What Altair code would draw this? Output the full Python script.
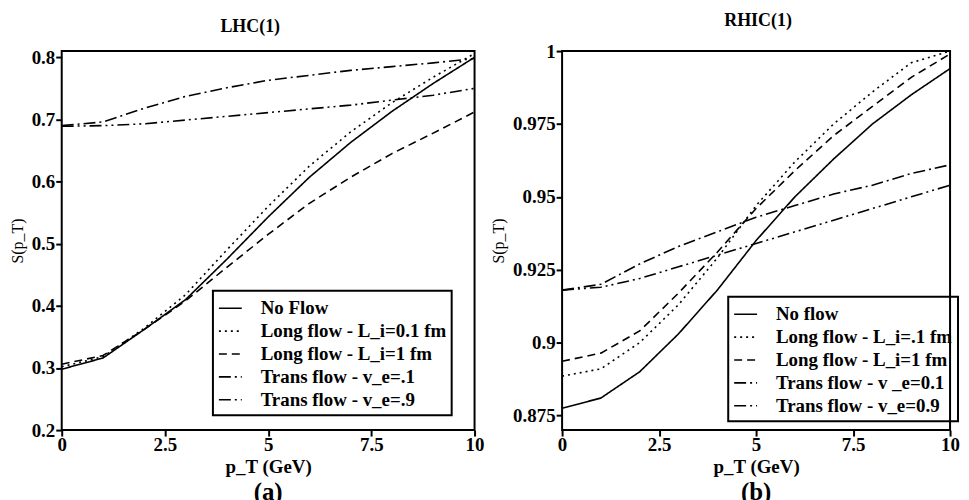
import altair as alt
import pandas as pd

FONT = "Liberation Serif"

# ---------------- data ----------------
pT = [0, 1, 2, 3, 4, 5, 6, 7, 8, 9, 10]

lhc_labels = ["No Flow", "Long flow - L_i=0.1 fm", "Long flow - L_i=1 fm",
              "Trans  flow  - v_e=.1", "Trans flow  - v_e=.9"]
lhc_no_flow = [0.298, 0.316, 0.362, 0.410, 0.475, 0.543, 0.607, 0.663, 0.713, 0.758, 0.800]
lhc_long_01 = [0.302, 0.318, 0.364, 0.418, 0.490, 0.560, 0.625, 0.680, 0.727, 0.768, 0.806]
lhc_long_1 = [0.306, 0.320, 0.362, 0.408, 0.462, 0.515, 0.565, 0.607, 0.645, 0.678, 0.712]
lhc_trans_01 = [0.690, 0.696, 0.718, 0.737, 0.751, 0.763, 0.771, 0.779, 0.785, 0.791, 0.798]
lhc_trans_09 = [0.689, 0.690, 0.693, 0.699, 0.705, 0.711, 0.717, 0.723, 0.731, 0.739, 0.750]

rhic_labels = ["No flow", "Long flow - L_i=.1 fm", "Long flow  - L_i=1 fm",
               "Trans flow  - v _e=0.1", "Trans flow  - v_e=0.9"]
rhic_no_flow = [0.8775, 0.881, 0.890, 0.903, 0.918, 0.935, 0.950, 0.963, 0.975, 0.985, 0.994]
rhic_long_01 = [0.8885, 0.891, 0.900, 0.913, 0.929, 0.947, 0.962, 0.975, 0.986, 0.996, 1.000]
rhic_long_1 = [0.8936, 0.8964, 0.904, 0.917, 0.931, 0.946, 0.959, 0.971, 0.981, 0.991, 0.999]
rhic_trans_01 = [0.918, 0.920, 0.927, 0.933, 0.938, 0.943, 0.947, 0.951, 0.954, 0.958, 0.961]
rhic_trans_09 = [0.918, 0.919, 0.922, 0.926, 0.930, 0.934, 0.938, 0.942, 0.946, 0.950, 0.954]

x_major = [0, 2.5, 5, 7.5, 10]
lhc_y_major = [0.2, 0.3, 0.4, 0.5, 0.6, 0.7, 0.8]
rhic_y_major = [0.875, 0.9, 0.925, 0.95, 0.975, 1.0]

# line styles (solid, dotted, dashed, dash-dot, dash-dot-dot)
DASHES = [[1, 0], [2, 4], [8, 5], [12, 4, 2, 4], [12, 4, 2, 4, 2, 4]]


def panel(labels, series, ydom, ymaj, title, tag, w, h, lx, ly, tpad, tdx):
    rows = []
    for lab, vals in zip(labels, series):
        for xv, yv in zip(pT, vals):
            rows.append({"pT": xv, "S": yv, "series": lab})
    df = pd.DataFrame(rows)
    xs = alt.Scale(domain=[0, 10], nice=False, zero=False)
    ys = alt.Scale(domain=ydom, nice=False, zero=False)

    x_axis = alt.Axis(values=x_major, labelExpr="toString(datum.value)", title="p_T (GeV)",
                      domain=False, ticks=True, tickSize=6, tickWidth=2, tickColor="black",
                      grid=False, labelFlush=False,
                      labelFont=FONT, labelFontSize=19, labelFontWeight="bold",
                      labelColor="black", labelPadding=0,
                      titleFont=FONT, titleFontSize=19, titleFontWeight="bold",
                      titleColor="black", titlePadding=3)
    y_axis = alt.Axis(values=ymaj, labelExpr="toString(datum.value)", title="S(p_T)",
                      domain=False, ticks=True, tickSize=6, tickWidth=2, tickColor="black",
                      grid=False,
                      labelFont=FONT, labelFontSize=19, labelFontWeight="bold",
                      labelColor="black", labelPadding=1,
                      titleFont=FONT, titleFontSize=16, titleFontWeight="normal",
                      titleColor="black", titlePadding=tpad)

    lines = alt.Chart(df).mark_line(clip=True, color="black", strokeWidth=1.6).encode(
        x=alt.X("pT:Q", scale=xs, axis=x_axis),
        y=alt.Y("S:Q", scale=ys, axis=y_axis),
        strokeDash=alt.StrokeDash(
            "series:N", sort=labels,
            scale=alt.Scale(domain=labels, range=DASHES),
            legend=alt.Legend(orient="none", legendX=lx, legendY=ly, title=None,
                              symbolType="stroke", symbolStrokeColor="black",
                              symbolStrokeWidth=1.6, symbolSize=529,
                              labelFont=FONT, labelFontSize=19, labelFontWeight="bold",
                              labelColor="black", labelOffset=18, labelLimit=400,
                              strokeColor="black", padding=5, rowPadding=0)),
        detail="series:N",
    )

    tagc = alt.Chart(pd.DataFrame({"t": [tag]})).mark_text(
        font=FONT, fontSize=25, fontWeight="bold", color="black", baseline="middle"
    ).encode(text="t:N", x=alt.value(w / 2), y=alt.value(h + 62))

    return alt.layer(lines, tagc).properties(
        width=w, height=h,
        title=alt.TitleParams(title, font=FONT, fontSize=18, fontWeight="bold",
                              color="black", offset=12, anchor="middle", dx=tdx),
    )


left = panel(lhc_labels,
             [lhc_no_flow, lhc_long_01, lhc_long_1, lhc_trans_01, lhc_trans_09],
             [0.2, 0.81], lhc_y_major, "LHC(1)", "(a)",
             415, 381, 152, 241, 6, -18)
right = panel(rhic_labels,
              [rhic_no_flow, rhic_long_01, rhic_long_1, rhic_trans_01, rhic_trans_09],
              [0.87, 1.0], rhic_y_major, "RHIC(1)", "(b)",
              390, 381, 167, 247, 6, 2)

chart = alt.concat(left, right, columns=2, spacing=4).resolve_scale(
    strokeDash="independent"
).resolve_legend(strokeDash="independent").configure(
    padding={"left": 0, "top": 2, "right": 0, "bottom": 0}
).configure_view(stroke="black", strokeWidth=2).configure_legend(strokeWidth=2)

chart.save("out.html", embed_options={"renderer": "svg", "actions": False})
